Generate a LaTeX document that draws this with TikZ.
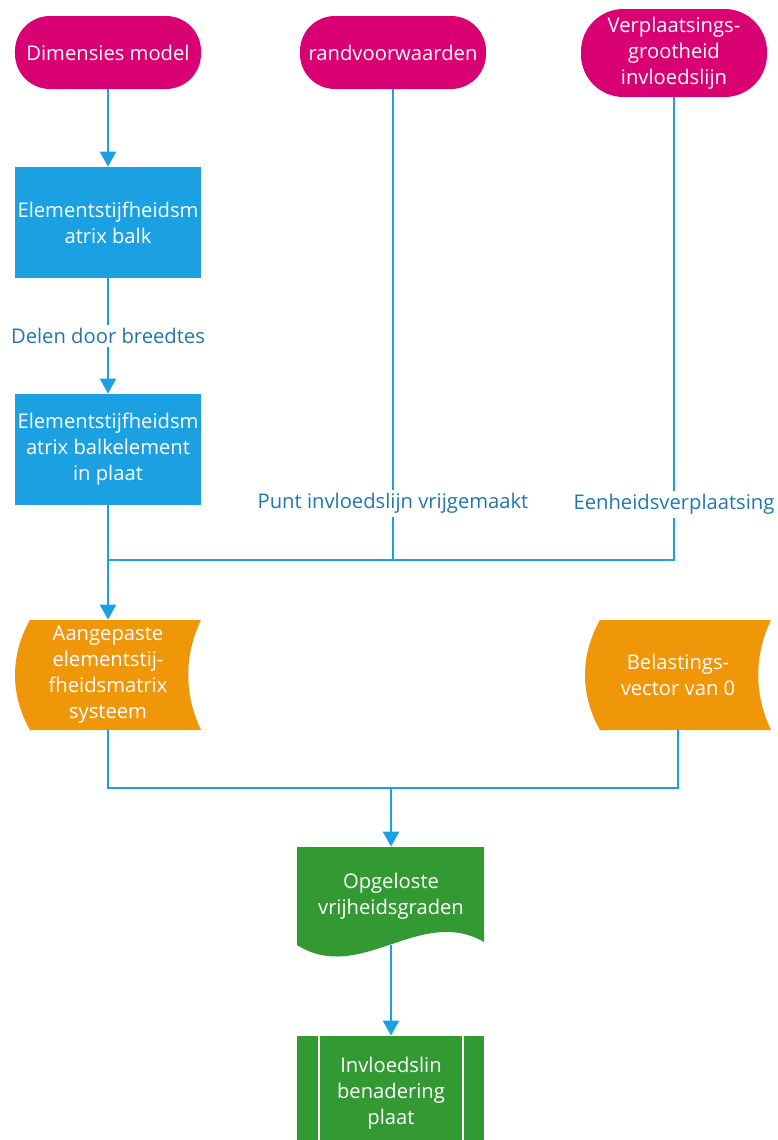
\documentclass[tikz,border=0pt]{standalone}
\usepackage{fontspec}
\setmainfont{Open Sans}
\usetikzlibrary{arrows.meta,backgrounds}

\definecolor{termcolor}{HTML}{D80073}
\definecolor{proccolor}{HTML}{1BA1E2}
\definecolor{datacolor}{HTML}{F09609}
\definecolor{doccolor}{HTML}{339933}
\definecolor{linecolor}{HTML}{1BA1E2}
\definecolor{labelcolor}{HTML}{2176AE}

\tikzset{
  terminal/.style={fill=termcolor, text=white, rounded corners=7mm, minimum width=37.2mm, minimum height=14.6mm, align=center, inner sep=0pt},
  process/.style={fill=proccolor, text=white, minimum width=37.2mm, minimum height=22.2mm, align=center, inner sep=0pt},
  textonly/.style={text=white, align=center, inner sep=0pt},
  flowline/.style={draw=linecolor, line width=0.4mm},
  flowarrow/.style={flowline, -{Triangle[width=3.2mm,length=3mm]}},
  linelabel/.style={fill=white, text=labelcolor, inner sep=2pt},
}

\begin{document}
\begin{tikzpicture}[x=0.2mm, y=-0.2mm, font=\fontsize{11.5}{14.8}\selectfont]
    \useasboundingbox (0,0) rectangle (777,1140);

    % Start and input blocks
    \node[terminal] (dims) at (108,52.5) {Dimensies model};
    \node[terminal] (randv) at (393,52.5) {randvoorwaarden};
    \node[terminal, minimum height=17.6mm, rounded corners=8.5mm] (verpl) at (674,53) {Verplaatsings-\\grootheid\\invloedslijn};

    % Processes
    \node[process] (stijf) at (108,222.5) {Elementstijfheidsm\\atrix balk};
    \node[process] (stijfplaat) at (108,449.5) {Elementstijfheidsm\\atrix balkelement\\in plaat};

    % Text of the data, document and result blocks
    \node[textonly, minimum width=37.2mm, minimum height=22mm] (aangep) at (108,675) {Aangepaste\\elementstij-\\fheidsmatrix\\systeem};
    \node[textonly, minimum width=37.2mm, minimum height=22mm] (belast) at (678,675) {Belastings-\\vector van 0};
    \node[textonly, minimum width=37.4mm, minimum height=19.6mm] (oplos) at (391,896) {Opgeloste\\vrijheidsgraden};
    \node[textonly, minimum width=37.4mm, minimum height=22.8mm] (invl) at (391,1093) {Invloedslin\\benadering\\plaat};

    \coordinate (join) at (108,560);
    \coordinate (merge) at (391,788);

    % Shapes behind the texts
    \begin{scope}[on background layer]
        % stored data
        \foreach \xa/\xb in {15/201, 585/771}
            \fill[datacolor] (\xa+15,620) -- (\xb,620) .. controls (\xb-17,655) and (\xb-17,695) .. (\xb,730) -- (\xa+15,730) .. controls (\xa-5,695) and (\xa-5,655) .. (\xa+15,620);
        % document
        \fill[doccolor] (297,847) -- (484,847) -- (484,942) .. controls (420,905) and (360,985) .. (297,945) -- cycle;
        % predefined process
        \fill[doccolor] (297,1036) rectangle (484,1150);
        \draw[white, line width=0.4mm] (319,1036) -- (319,1150) (463,1036) -- (463,1150);
    \end{scope}

    % Connectors
    \draw[flowarrow] (dims) -- (stijf);
    \draw[flowarrow] (stijf) -- node[linelabel] {Delen door breedtes} (stijfplaat);
    \draw[flowarrow] (stijfplaat) -- (aangep);
    \draw[flowline] (randv) -- node[linelabel, pos=0.88] {Punt invloedslijn vrijgemaakt} (randv.south |- join) -- (join);
    \draw[flowline] (verpl) -- node[linelabel, pos=0.88] {Eenheidsverplaatsing} (verpl.south |- join) -- (join);
    \draw[flowline] (aangep.south) |- (merge) -| (belast.south);
    \draw[flowarrow] (merge) -- (oplos);
    \draw[flowarrow] (oplos) -- (invl);

\end{tikzpicture}
\end{document}
